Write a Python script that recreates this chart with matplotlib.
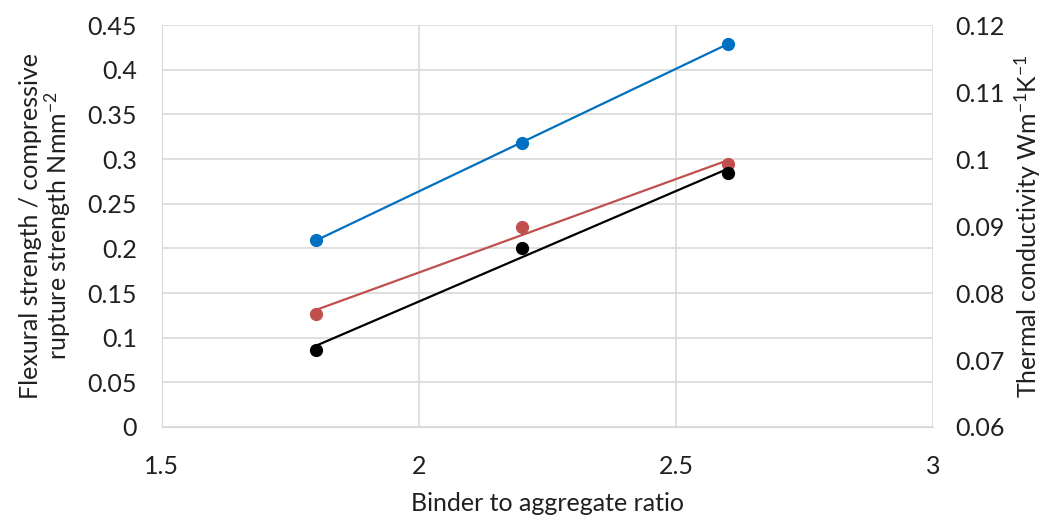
import numpy as np
import matplotlib
matplotlib.use("Agg")
import matplotlib.pyplot as plt

plt.rcParams['font.family'] = ['Lato', 'DejaVu Sans']
plt.rcParams['mathtext.fontset'] = 'custom'
plt.rcParams['mathtext.rm'] = 'Lato'
plt.rcParams['mathtext.it'] = 'Lato:italic'

# Data
ratio = [1.8, 2.2, 2.6]
thermal_conductivity = [0.0879, 0.1024, 0.1172]   # right axis (blue)
compressive_strength = [0.1265, 0.224, 0.294]      # left axis (red)
flexural_strength = [0.086, 0.200, 0.284]          # left axis (black)

x_ticks = [1.5, 2, 2.5, 3]
x_tick_labels = ['1.5', '2', '2.5', '3']
left_ticks = [0, 0.05, 0.1, 0.15, 0.2, 0.25, 0.3, 0.35, 0.4, 0.45]
left_tick_labels = ['0', '0.05', '0.1', '0.15', '0.2', '0.25', '0.3', '0.35', '0.4', '0.45']
right_ticks = [0.06, 0.07, 0.08, 0.09, 0.1, 0.11, 0.12]
right_tick_labels = ['0.06', '0.07', '0.08', '0.09', '0.1', '0.11', '0.12']

fig = plt.figure(figsize=(10.5, 5.22), dpi=100)
ax = fig.add_axes([0.154, 0.182, 0.735, 0.770])
ax2 = ax.twinx()

grid_c = '#d9d9d9'
fs = 18

def trend(axis, x, y, color):
    xa = np.array(x)
    p = np.polyfit(xa, np.array(y), 1)
    axis.plot([xa.min(), xa.max()], np.polyval(p, [xa.min(), xa.max()]), color=color, lw=1.6, zorder=3)
    axis.plot(x, y, 'o', color=color, ms=8.5, zorder=4, clip_on=False)

trend(ax, ratio, compressive_strength, '#c0504d')
trend(ax, ratio, flexural_strength, '#000000')
trend(ax2, ratio, thermal_conductivity, '#0070c0')

ax.set_xlim(1.5, 3)
ax.set_ylim(0, 0.45)
ax2.set_ylim(0.06, 0.12)

ax.set_xticks(x_ticks)
ax.set_xticklabels(x_tick_labels, fontsize=fs)
ax.set_yticks(left_ticks)
ax.set_yticklabels(left_tick_labels, fontsize=fs)
ax2.set_yticks(right_ticks)
ax2.set_yticklabels(right_tick_labels, fontsize=fs)

ax.grid(True, color=grid_c, lw=1.2)
ax.set_axisbelow(True)
for a in (ax, ax2):
    for s in ['top', 'right']:
        a.spines[s].set_visible(False)
    a.spines['left'].set_color(grid_c)
    a.spines['bottom'].set_color(grid_c)
ax2.spines['left'].set_visible(False)
ax2.spines['bottom'].set_visible(False)

ax.tick_params(axis='both', length=0, colors='#404040', labelcolor='#202020')
ax.tick_params(axis='x', pad=20)
ax.tick_params(axis='y', pad=18)
ax2.tick_params(axis='y', length=0, pad=16, labelcolor='#202020')

ax.set_xlabel('Binder to aggregate ratio', fontsize=fs, labelpad=10, color='#202020')
ax.set_ylabel('Flexural strength / compressive\nrupture strength Nmm$^{-2}$', fontsize=fs,
              labelpad=10, color='#202020', linespacing=1.05)
ax2.set_ylabel('Thermal conductivity Wm$^{-1}$K$^{-1}$', fontsize=fs, labelpad=5, color='#202020')

fig.savefig('out.png', dpi=100)
